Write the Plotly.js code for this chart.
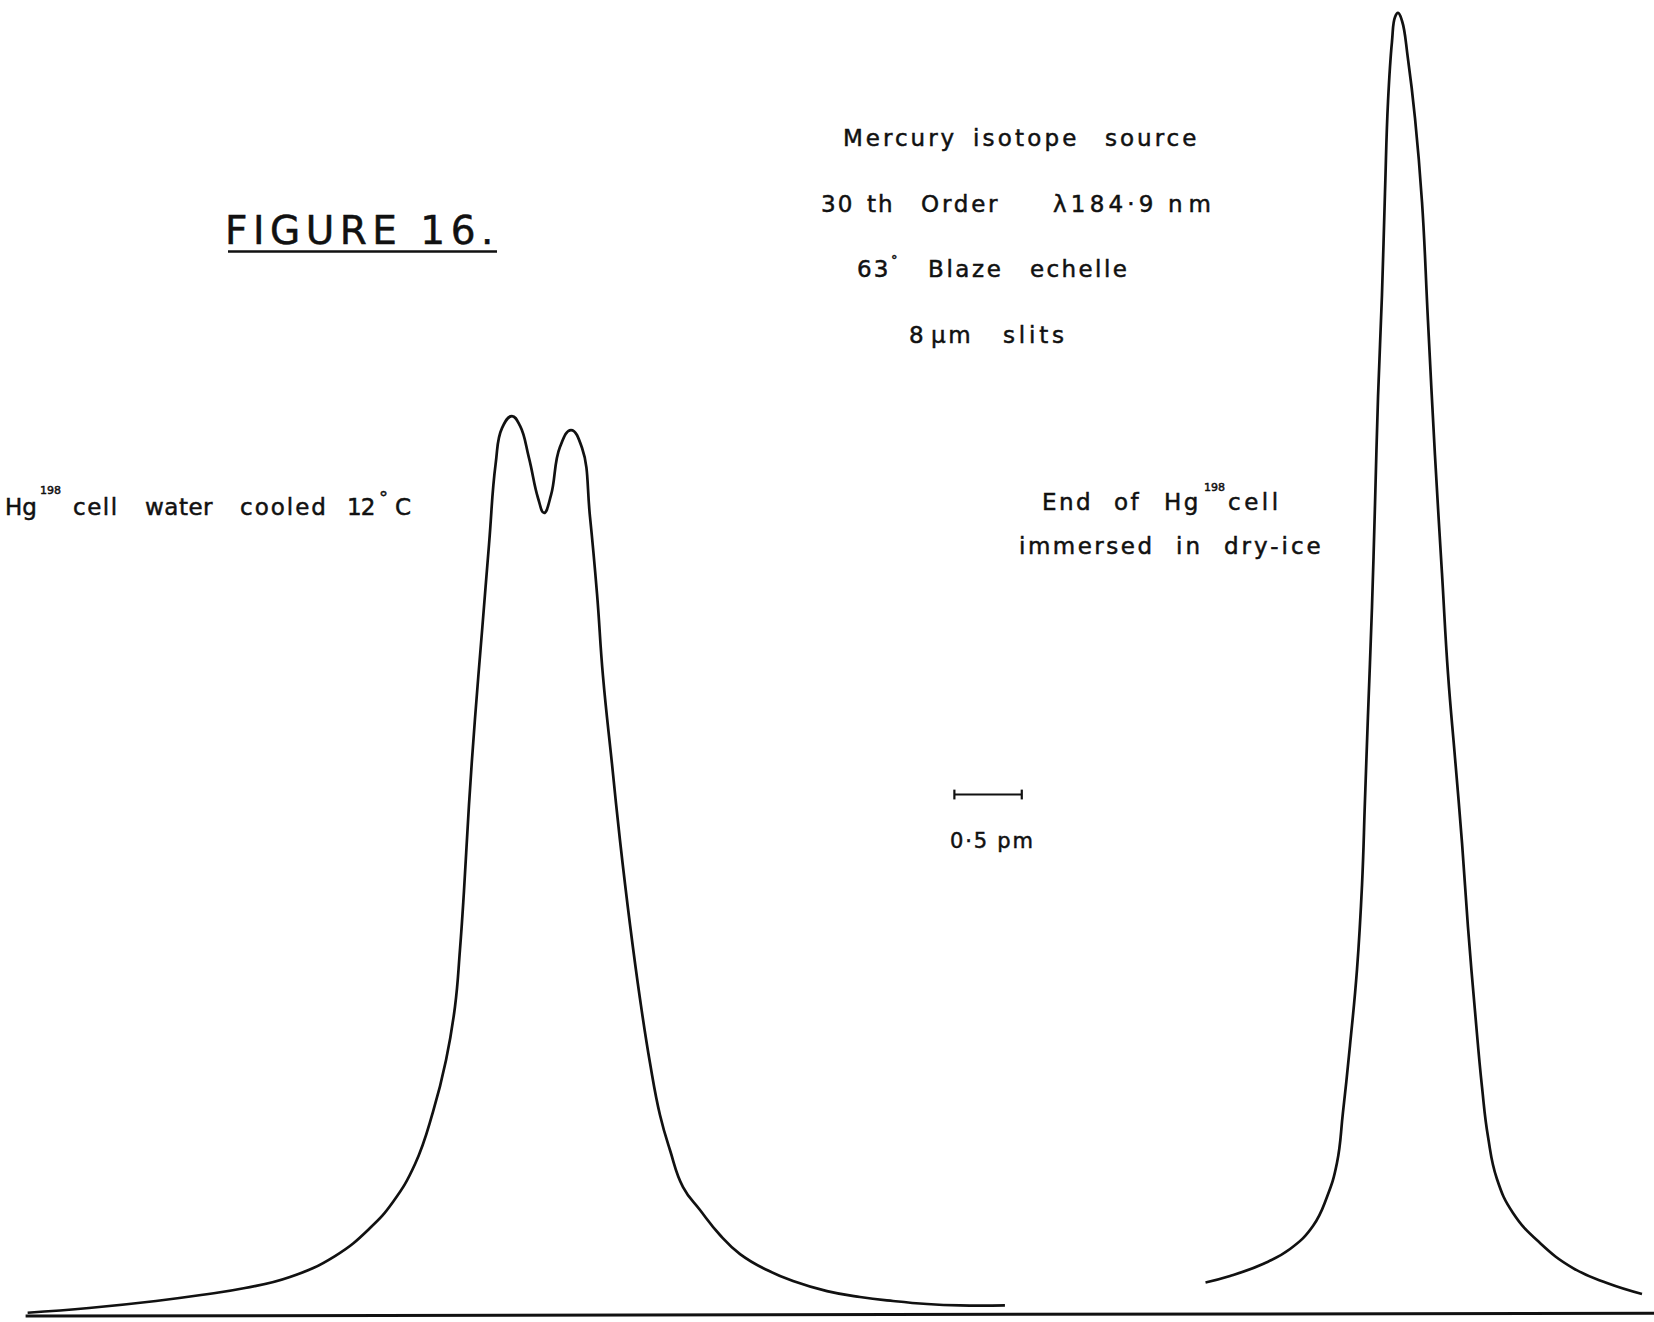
<!DOCTYPE html>
<html>
<head>
<meta charset="utf-8">
<script src="https://cdn.plot.ly/plotly-3.0.1.min.js"></script>
<style>
  html, body { margin: 0; padding: 0; background: #ffffff; }
  #chart { width: 1654px; height: 1322px; }
</style>
</head>
<body>
<div id="chart"></div>
<script>
// Wavelength position along the scan (pm) and recorder deflection (% of full scale).

// Hg-198 absorption cell, water cooled to 12 °C (self-reversed profile)
const coolX = [0.205, 0.660, 1.157, 1.491, 1.818, 2.151, 2.485, 2.745, 2.915, 3.079,
               3.212, 3.309, 3.375, 3.412, 3.442, 3.479, 3.524, 3.576, 3.628, 3.676,
               3.724, 3.798, 3.858, 3.924, 3.991, 4.036, 4.088, 4.154, 4.236, 4.318,
               4.377, 4.429, 4.473, 4.540, 4.599, 4.674, 4.748, 4.822, 4.896, 4.970,
               5.067, 5.193, 5.341, 5.490, 5.690, 5.883, 6.135, 6.380, 6.625, 6.877,
               7.122, 7.455];
const coolY = [0.70, 1.06, 1.59, 2.04, 2.57, 3.40, 4.99, 7.11, 9.08, 11.95,
               15.89, 19.82, 23.83, 28.14, 32.60, 39.11, 45.69, 52.27, 58.85, 64.83,
               67.62, 68.53, 67.78, 65.36, 62.33, 61.20, 62.56, 66.19, 67.47, 66.11,
               60.89, 55.07, 48.87, 42.21, 36.46, 30.03, 24.43, 19.59, 15.66, 13.01,
               10.21, 8.47, 6.58, 5.14, 3.93, 3.10, 2.34, 1.89, 1.59, 1.36,
               1.25, 1.25];

// End of the Hg-198 cell immersed in dry-ice
const iceX = [8.943, 9.125, 9.369, 9.570, 9.740, 9.844, 9.918, 9.963, 10.015, 10.067,
              10.104, 10.126, 10.148, 10.178, 10.200, 10.223, 10.252, 10.274, 10.297, 10.326,
              10.349, 10.371, 10.401, 10.445, 10.497, 10.549, 10.593, 10.645, 10.697, 10.742,
              10.794, 10.846, 10.890, 10.942, 10.994, 11.039, 11.105, 11.224, 11.424, 11.669,
              11.921, 12.181];
const iceY = [2.99, 3.48, 4.39, 5.52, 7.26, 9.46, 12.03, 15.89, 20.95, 26.70,
              33.06, 39.49, 45.84, 54.08, 61.72, 70.05, 77.69, 85.33, 92.36, 96.82,
              98.71, 99.02, 98.41, 95.54, 91.07, 84.72, 75.79, 65.58, 56.66, 49.02,
              42.66, 36.23, 29.88, 23.53, 17.78, 13.99, 10.82, 8.25, 5.98, 4.08,
              2.95, 2.12];

// Recorder zero line
const zeroX = [0.19, 12.27];
const zeroY = [0.45, 0.66];

// Wavelength scale bar
const scaleBarStart = 7.08;   // pm
const scaleBarLength = 0.5;   // pm
const scaleBarLevel = 39.9;   // % of full scale
const scaleBarLabel = '0·5\u00a0pm';

const W = 1654, H = 1322;
const INK = '#111111';
const FONT = 'DejaVu Sans';

// One word of plotter-style lettering, left edge at x0 (px), centred on yc (px).
function word(text, x0, yc, size, ls) {
  return {
    text: '<span style="letter-spacing:' + ls + 'px;stroke:' + INK +
          ';stroke-width:0.5px">' + text + '</span>',
    x: x0 / W, y: 1 - yc / H, xref: 'paper', yref: 'paper',
    xanchor: 'left', yanchor: 'middle', showarrow: false,
    borderpad: 0, borderwidth: 0,
    font: { family: FONT, size: size, color: INK }
  };
}

const annotations = [
  // caption
  word('FIGURE\u00a016.', 225, 230, 39, 5.5),
  // instrument notes
  word('Mercury', 843, 137.7, 23, 3),
  word('isotope', 973, 137.7, 23, 3.2),
  word('source', 1105, 137.7, 23, 3),
  word('30', 821, 203.7, 23, 2),
  word('th', 867, 203.7, 23, 2),
  word('Order', 921, 203.7, 23, 2.8),
  word('λ184·9', 1053, 203.7, 23, 4.2),
  word('nm', 1168, 203.7, 23, 6),
  word('63', 857, 268.7, 23, 2),
  word('°', 891, 259, 13, 0),
  word('Blaze', 928, 268.7, 23, 2.6),
  word('echelle', 1030, 268.7, 23, 2.4),
  word('8', 909, 335, 23, 0),
  word('μm', 931, 335, 23, 2.5),
  word('slits', 1003, 335, 23, 3.8),
  // left trace label
  word('Hg', 5, 506.7, 23, 0),
  word('198', 40, 490, 11, 0),
  word('cell', 73, 506.7, 23, 1.5),
  word('water', 145, 506.7, 23, 0.5),
  word('cooled', 240, 506.7, 23, 2),
  word('12', 347, 506.7, 23, -1),
  word('°', 379, 497, 18, 0),
  word('C', 395, 506.7, 23, 0),
  // right trace label
  word('End', 1042, 502, 23, 2.5),
  word('of', 1114, 502, 23, 2.5),
  word('Hg', 1164, 502, 23, 2.5),
  word('198', 1204, 487, 11, 0),
  word('cell', 1228, 502, 23, 3.5),
  word('immersed', 1019, 546, 23, 2.5),
  word('in', 1176, 546, 23, 3),
  word('dry-ice', 1224, 546, 23, 3),
  // scale bar label
  word(scaleBarLabel, 950, 841, 21, 1.8)
];

const traces = [
  { x: coolX, y: coolY, mode: 'lines', line: { color: INK, width: 2.7, shape: 'spline', smoothing: 1.3 } },
  { x: iceX, y: iceY, mode: 'lines', line: { color: INK, width: 2.7, shape: 'spline', smoothing: 1.3 } },
  { x: zeroX, y: zeroY, mode: 'lines', line: { color: INK, width: 3 } },
  { x: [scaleBarStart, scaleBarStart + scaleBarLength], y: [scaleBarLevel, scaleBarLevel],
    mode: 'lines+markers', line: { color: INK, width: 2.2 },
    marker: { symbol: 'line-ns-open', size: 7, color: INK, line: { width: 2.2, color: INK } } }
];

const shapes = [
  // underline of the figure caption
  { type: 'line', xref: 'paper', yref: 'paper', x0: 228 / W, x1: 497 / W,
    y0: 1 - 251.5 / H, y1: 1 - 251.5 / H, line: { color: INK, width: 2.6 } }
];

const layout = {
  width: W, height: H,
  margin: { l: 0, r: 0, t: 0, b: 0, pad: 0 },
  paper_bgcolor: '#ffffff', plot_bgcolor: '#ffffff',
  showlegend: false,
  xaxis: { range: [0, W / 134.8], visible: false, fixedrange: true },
  yaxis: { range: [0, 100], visible: false, fixedrange: true },
  annotations: annotations,
  shapes: shapes
};

Plotly.newPlot('chart', traces, layout, { staticPlot: true, displayModeBar: false });
</script>
</body>
</html>
